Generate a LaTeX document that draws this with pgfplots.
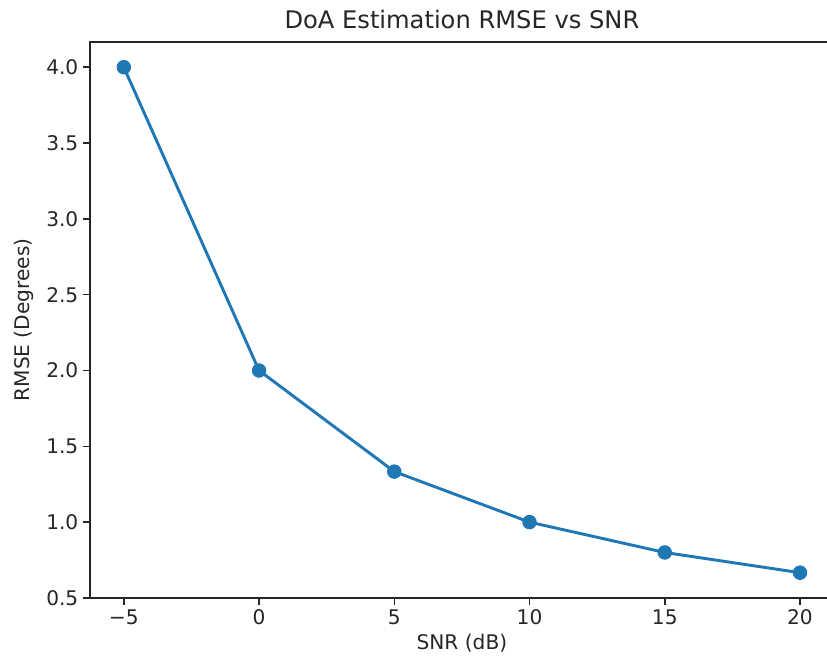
\documentclass[border=0pt]{standalone}
\usepackage{fontspec}
\setmainfont{DejaVu Sans}
\usepackage{pgfplots}
\pgfplotsset{compat=1.18}
\definecolor{mplblue}{HTML}{1F77B4}

\begin{document}
\begin{tikzpicture}
\begin{axis}[
    scale only axis,
    width=535.5pt, height=400.3pt,
    xmin=-6.25, xmax=21.25,
    ymin=0.5, ymax=4.1667,
    xtick={-5,0,5,10,15,20},
    xticklabels={−5,0,5,10,15,20},
    ytick={0.5,1,1.5,2,2.5,3,3.5,4},
    yticklabels={0.5,1.0,1.5,2.0,2.5,3.0,3.5,4.0},
    tick align=outside,
    tick pos=left,
    major tick length=4.9pt,
    axis line style={line width=1.1pt, black!85},
    every tick/.style={black!85, line width=1.1pt},
    ticklabel style={font=\fontsize{14.5}{16}\selectfont, text=black!85},
    xlabel={SNR (dB)},
    ylabel={RMSE (Degrees)},
    ylabel shift=2pt,
    label style={font=\fontsize{14.5}{16}\selectfont, text=black!85},
    title={DoA Estimation RMSE vs SNR},
    title style={font=\fontsize{17.4}{19}\selectfont, text=black!85},
]
\addplot[color=mplblue, line width=2.1pt, mark=*, mark size=4.9pt,
         mark options={fill=mplblue, draw=mplblue, line width=0.6pt}]
  coordinates {
    (-5,4.0) (0,2.0) (5,1.3333) (10,1.0) (15,0.8) (20,0.6667)
  };
\end{axis}
\pgfresetboundingbox
\path (-64.8pt,-46.8pt) rectangle (530.6pt,430.5pt);
\end{tikzpicture}
\end{document}
